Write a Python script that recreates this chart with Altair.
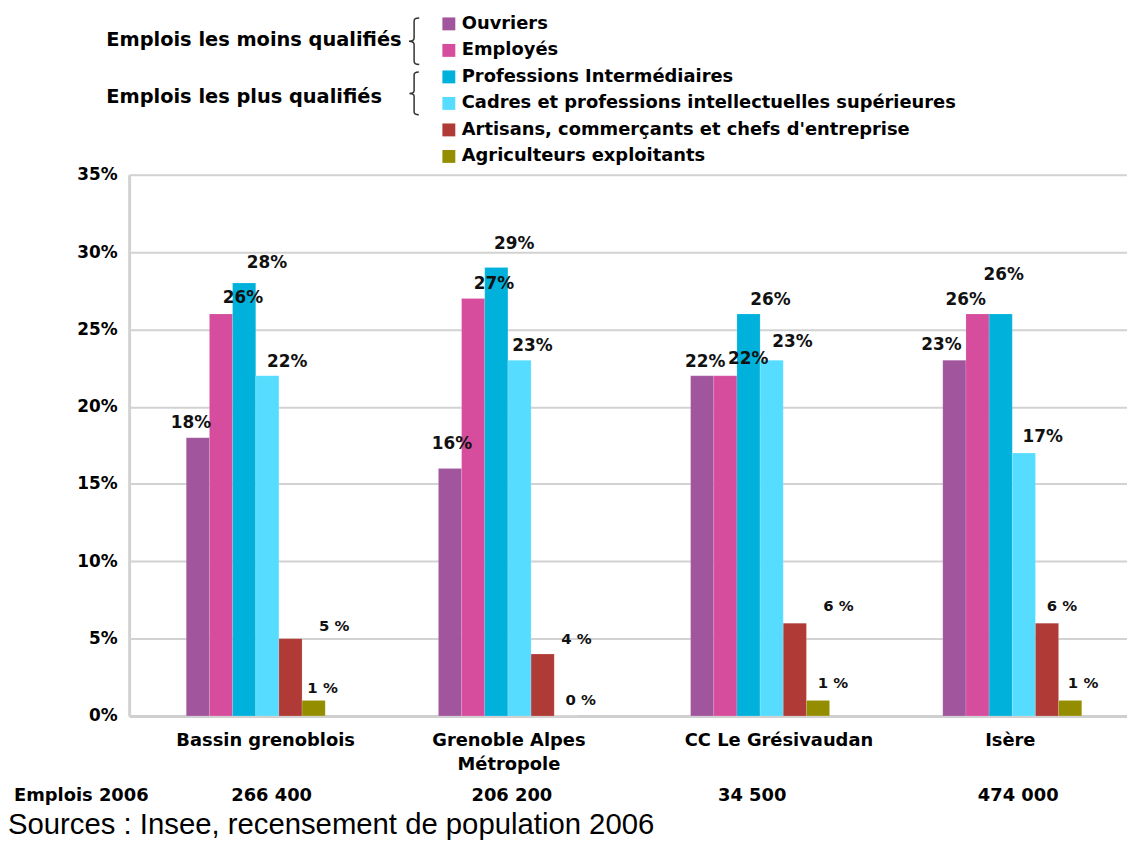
import altair as alt
import pandas as pd

# ---- data ----
groups = ["Bassin grenoblois", "Grenoble Alpes\nMétropole", "CC Le Grésivaudan", "Isère"]
series = [
    "Ouvriers",
    "Employés",
    "Professions Intermédiaires",
    "Cadres et professions intellectuelles supérieures",
    "Artisans, commerçants et chefs d'entreprise",
    "Agriculteurs exploitants",
]
ouvriers = [18, 16, 22, 23]
employes = [26, 27, 22, 26]
prof_inter = [28, 29, 26, 26]
cadres = [22, 23, 23, 17]
artisans = [5, 4, 6, 6]
agriculteurs = [1, 0, 1, 1]
emplois_2006 = ["266 400", "206 200", "34 500", "474 000"]
group_titles = ["Emplois les moins qualifiés", "Emplois les plus qualifiés"]
source_text = "Sources : Insee, recensement de population 2006"
y_ticks = [0, 5, 10, 15, 20, 25, 30, 35]

# ---- styles ----
colors = ["#a0559c", "#d54d9c", "#00b1db", "#55dcff", "#b03b36", "#948d00"]
# value-label nudges (pixels) per series, per group
label_dx = [
    [-7, 2, 3, -13],
    [22, 21, 23, -12],
    [23, 18, 22, 3],
    [20, 13, 21, 19],
    [44, 34, 44, 15],
    [9, 15, 15, 13],
]
label_dy = [
    [-15, -25, -14, -15],
    [-16, -15, -17, -14],
    [-20, -24, -14, -39],
    [-14, -14, -18, -16],
    [-13, -15, -17, -17],
    [-13, -16, -18, -18],
]
cat_label_dx = [10, 1, 19, -2]
emplois_dx = [16, 4, -8, 6]
FONT = "DejaVu Sans"

all_vals = [ouvriers, employes, prof_inter, cadres, artisans, agriculteurs]
rows = []
for si, s in enumerate(series):
    for gi, g in enumerate(groups):
        v = all_vals[si][gi]
        lab = f"{v}%" if si < 4 else f"{v} %"
        rows.append({"group": g, "series": s, "value": v, "label": lab})
df = pd.DataFrame(rows)

xscale = alt.Scale(domain=groups, paddingInner=0.449, paddingOuter=0.203, align=0.558)
x_enc = alt.X(
    "group:N",
    sort=groups,
    scale=xscale,
    title=None,
    axis=alt.Axis(labels=False, ticks=False, domainColor="#cfcfcf", domainWidth=3),
)
y_enc = alt.Y(
    "value:Q",
    scale=alt.Scale(domain=[0, 35], nice=False),
    title=None,
    axis=alt.Axis(
        values=y_ticks,
        labelExpr="datum.value + '%'",
        labelFont=FONT,
        labelFontWeight="bold",
        labelFontSize=17,
        labelColor="#000000",
        labelPadding=12,
        ticks=False,
        gridColor="#d2d2d2",
        gridWidth=2,
        domainColor="#d2d2d2",
        domainWidth=3,
    ),
)

bars = alt.Chart(df).mark_bar(stroke="#ffffff", strokeOpacity=0.25, strokeWidth=0.6).encode(
    x=x_enc,
    xOffset=alt.XOffset("series:N", sort=series, scale=alt.Scale(domain=series)),
    y=y_enc,
    color=alt.Color(
        "series:N",
        sort=series,
        scale=alt.Scale(domain=series, range=colors),
        legend=alt.Legend(
            title=None,
            orient="none",
            legendX=313,
            legendY=-161,
            symbolType="square",
            symbolSize=169,
            symbolStrokeWidth=0,
            symbolOpacity=1,
            labelFont=FONT,
            labelFontWeight="bold",
            labelFontSize=18,
            labelColor="#000000",
            labelOffset=4,
            labelLimit=800,
            rowPadding=8.7,
            padding=0,
        ),
    ),
)

labels = []
for si, s in enumerate(series):
    for gi, g in enumerate(groups):
        labels.append(
            alt.Chart(df)
            .transform_filter((alt.datum.series == s) & (alt.datum.group == g))
            .mark_text(
                font=FONT,
                fontWeight="bold",
                fontSize=17 if si < 4 else 15,
                color="#111111",
                dx=label_dx[si][gi],
                dy=label_dy[si][gi],
                baseline="middle",
                align="center",
            )
            .encode(
                x=alt.X("group:N", sort=groups),
                xOffset=alt.XOffset("series:N", sort=series),
                y="value:Q",
                text="label:N",
            )
        )

cat_df = pd.DataFrame({"group": groups, "emplois": emplois_2006})
cat_layers = []
for gi, g in enumerate(groups):
    cat_layers.append(
        alt.Chart(cat_df)
        .transform_filter(alt.datum.group == g)
        .mark_text(
            font=FONT, fontWeight="bold", fontSize=18, color="#000000",
            baseline="top", lineBreak="\n", lineHeight=24, dx=cat_label_dx[gi],
        )
        .encode(x=alt.X("group:N", sort=groups), y=alt.value(561), text="group:N")
    )
    cat_layers.append(
        alt.Chart(cat_df)
        .transform_filter(alt.datum.group == g)
        .mark_text(
            font=FONT, fontWeight="bold", fontSize=18, color="#000000",
            baseline="middle", dx=emplois_dx[gi],
        )
        .encode(x=alt.X("group:N", sort=groups), y=alt.value(626), text="emplois:N")
    )

emplois_title = alt.Chart(pd.DataFrame({"t": ["Emplois 2006"]})).mark_text(
    font=FONT, fontWeight="bold", fontSize=18, color="#000000", baseline="middle", align="left"
).encode(x=alt.value(-116), y=alt.value(626), text="t:N")

source = alt.Chart(pd.DataFrame({"t": [source_text]})).mark_text(
    font="Liberation Sans", fontSize=29.5, color="#000000", baseline="middle", align="left"
).encode(x=alt.value(-122), y=alt.value(655), text="t:N")

gt1 = alt.Chart(pd.DataFrame({"t": [group_titles[0]]})).mark_text(
    font=FONT, fontWeight="bold", fontSize=19.5, color="#000000", baseline="middle", align="left"
).encode(x=alt.value(-23), y=alt.value(-136), text="t:N")
gt2 = alt.Chart(pd.DataFrame({"t": [group_titles[1]]})).mark_text(
    font=FONT, fontWeight="bold", fontSize=19.5, color="#000000", baseline="middle", align="left"
).encode(x=alt.value(-23), y=alt.value(-78), text="t:N")

brace_path = (
    "M 0.22 -1 C 0.06 -1 0 -0.96 0 -0.86 L 0 -0.14 C 0 -0.04 -0.08 0 -0.22 0 "
    "C -0.08 0 0 0.04 0 0.14 L 0 0.86 C 0 0.96 0.06 1 0.22 1"
)
brace1 = alt.Chart(pd.DataFrame({"t": ["b1"]})).mark_point(
    shape=brace_path, size=2209, filled=False, stroke="#333333", strokeWidth=1.5, opacity=1
).encode(x=alt.value(287), y=alt.value(-134.5))
brace2 = alt.Chart(pd.DataFrame({"t": ["b2"]})).mark_point(
    shape=brace_path, size=1849, filled=False, stroke="#333333", strokeWidth=1.5, opacity=1
).encode(x=alt.value(287), y=alt.value(-82))

chart = (
    alt.layer(bars, *labels, *cat_layers, emplois_title, source, gt1, gt2, brace1, brace2)
    .properties(
        width=1005,
        height=545,
        autosize=alt.AutoSizeParams(type="none"),
        padding={"left": 122, "top": 165, "right": 0, "bottom": 128},
    )
    .configure_view(fill="#f6f6f6", stroke=None)
    .configure(background="#ffffff")
)

chart.save("out.html", embed_options={"renderer": "svg", "actions": False})
